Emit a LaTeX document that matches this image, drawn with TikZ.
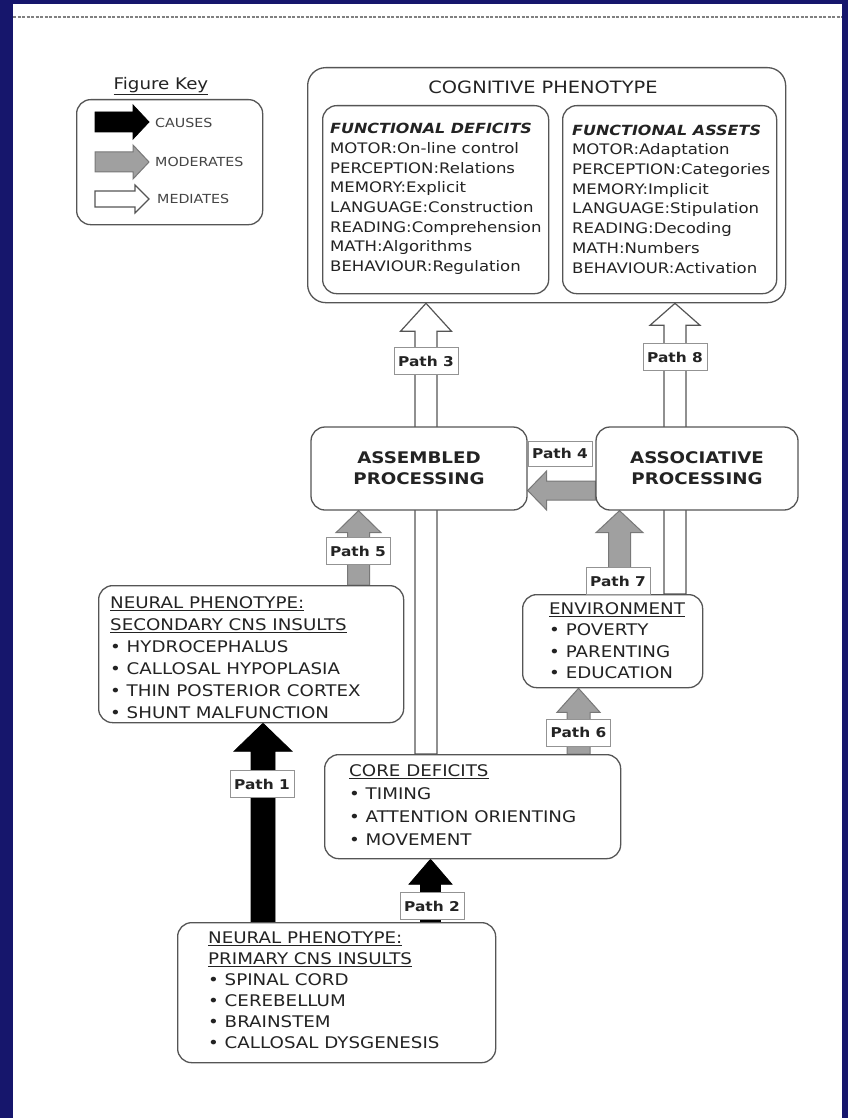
\documentclass[tikz,border=0pt]{standalone}
\usepackage{fontspec}
\setmainfont[FakeStretch=1.14]{DejaVu Sans}
\usetikzlibrary{calc}
\definecolor{navy}{RGB}{22,22,108}
\definecolor{boxc}{RGB}{85,85,85}
\definecolor{txtc}{RGB}{35,35,35}
\definecolor{modfill}{RGB}{160,160,160}
\definecolor{moddraw}{RGB}{120,120,120}
\pgfdeclarelayer{back}
\pgfdeclarelayer{bg}
\pgfsetlayers{back,bg,main}
% vertical block arrow: style, x-coordinate, from anchor (lower), to anchor (upper), shaft half, head half, head length
\newcommand\uparr[7]{%
  \draw[#1] ($(#3 -| #2)+(-#5,0)$) -- ($(#4 -| #2)+(-#5,#7)$) -- ($(#4 -| #2)+(-#6,#7)$) -- (#4 -| #2)
    -- ($(#4 -| #2)+(#6,#7)$) -- ($(#4 -| #2)+(#5,#7)$) -- ($(#3 -| #2)+(#5,0)$) -- cycle;}
% horizontal block arrow pointing left
\newcommand\leftarr[7]{%
  \draw[#1] ($(#3 |- #2)+(0,-#5)$) -- ($(#4 |- #2)+(#7,-#5)$) -- ($(#4 |- #2)+(#7,-#6)$) -- (#4 |- #2)
    -- ($(#4 |- #2)+(#7,#6)$) -- ($(#4 |- #2)+(#7,#5)$) -- ($(#3 |- #2)+(0,#5)$) -- cycle;}
% horizontal block arrow pointing right
\newcommand\rightarr[6]{%
  \draw[#1] ($(#2)+(0,-#4)$) -- ($(#3)+(-#6,-#4)$) -- ($(#3)+(-#6,-#5)$) -- (#3)
    -- ($(#3)+(-#6,#5)$) -- ($(#3)+(-#6,#4)$) -- ($(#2)+(0,#4)$) -- cycle;}
\tikzset{
  box/.style={draw=boxc, line width=1.3pt, rounded corners=14pt, fill=white, inner sep=0pt},
  txt/.style={inner sep=0pt, align=left, text=txtc},
  plabel/.style={draw=moddraw!80, line width=0.8pt, fill=white, inner sep=0pt,
    minimum width=64pt, minimum height=27pt, font=\bfseries\fontsize{13.5}{14}\selectfont, text=txtc},
  causes/.style={fill=black, draw=black, line width=0.8pt},
  moderates/.style={fill=modfill, draw=moddraw, line width=1pt},
  mediates/.style={fill=white, draw=boxc, line width=1.2pt},
  keytxt/.style={txt, anchor=west, font=\fontsize{12.5}{14}\selectfont, text=txtc!85},
}
\begin{document}
\begin{tikzpicture}[x=1pt,y=-1pt]
\begin{pgfonlayer}{back}
\fill[navy] (0,0) rectangle (848,1118);
\fill[white] (13,4) rectangle (842,1118);
\draw[gray, line width=1.3pt, dash pattern=on 3pt off 1.5pt] (13,17) -- (842,17);
\end{pgfonlayer}
\useasboundingbox (0,0) rectangle (848,1118);

% ---------- figure key ----------
\node[txt, anchor=center, font=\fontsize{16}{18}\selectfont] (keyt) at (161,86) {\underline{Figure Key}};
\node[box, anchor=north west, minimum width=186pt, minimum height=125pt] (key) at (76,99) {};
\coordinate (k1a) at (95,122); \coordinate (k1b) at (149,122);
\coordinate (k2a) at (95,162); \coordinate (k2b) at (149,162);
\coordinate (k3a) at (95,199); \coordinate (k3b) at (149,199);
\rightarr{causes}{k1a}{k1b}{10}{17}{16}
\rightarr{moderates}{k2a}{k2b}{10}{17}{16}
\rightarr{mediates}{k3a}{k3b}{8}{14}{14}
\node[keytxt] (kc) at (155,123) {CAUSES};
\node[keytxt] (km) at (155,162) {MODERATES};
\node[keytxt] (kd) at (157,199) {MEDIATES};

% ---------- cognitive phenotype ----------
\node[box, anchor=north west, minimum width=478pt, minimum height=235pt, rounded corners=18pt] (cog) at (307,67) {};
\node[txt, anchor=center, font=\fontsize{17}{20}\selectfont] (cogt) at (543,87) {COGNITIVE PHENOTYPE};
\node[box, anchor=north west, minimum width=226pt, minimum height=188pt] (fd) at (322,105) {};
\node[box, anchor=north west, minimum width=214pt, minimum height=188pt] (fa) at (562,105) {};
\node[txt, anchor=west, font=\fontsize{14.5}{19.7}\selectfont] (fdt) at (330,199)
  {{\bfseries\itshape\fontsize{14}{19.7}\selectfont FUNCTIONAL DEFICITS}\\MOTOR:On-line control\\PERCEPTION:Relations\\MEMORY:Explicit\\LANGUAGE:Construction\\READING:Comprehension\\MATH:Algorithms\\BEHAVIOUR:Regulation};
\node[txt, anchor=west, font=\fontsize{14.5}{19.7}\selectfont] (fat) at (572,199)
  {{\bfseries\itshape\fontsize{14}{19.7}\selectfont FUNCTIONAL ASSETS}\\MOTOR:Adaptation\\PERCEPTION:Categories\\MEMORY:Implicit\\LANGUAGE:Stipulation\\READING:Decoding\\MATH:Numbers\\BEHAVIOUR:Activation};

% ---------- processing ----------
\node[box, minimum width=216pt, minimum height=83pt, font=\bfseries\fontsize{16}{21}\selectfont, align=center, text=txtc] (asm) at (419,468.5) {ASSEMBLED\\PROCESSING};
\node[box, minimum width=202pt, minimum height=83pt, font=\bfseries\fontsize{16}{21}\selectfont, align=center, text=txtc] (assoc) at (697,468.5) {ASSOCIATIVE\\PROCESSING};

% ---------- lower boxes ----------
\node[box, anchor=north west, minimum width=305pt, minimum height=137pt] (sec) at (98,585) {};
\node[txt, anchor=west, font=\fontsize{16}{22}\selectfont] (sect) at (110,657.5)
  {\underline{NEURAL PHENOTYPE:}\\\underline{SECONDARY CNS INSULTS}\\\textbullet\ HYDROCEPHALUS\\\textbullet\ CALLOSAL HYPOPLASIA\\\textbullet\ THIN POSTERIOR CORTEX\\\textbullet\ SHUNT MALFUNCTION};
\node[box, anchor=north west, minimum width=180pt, minimum height=93pt] (env) at (522,594) {};
\node[txt, anchor=west, font=\fontsize{16}{21.5}\selectfont] (envt) at (549,640.5)
  {\underline{ENVIRONMENT}\\\textbullet\ POVERTY\\\textbullet\ PARENTING\\\textbullet\ EDUCATION};
\node[box, anchor=north west, minimum width=296pt, minimum height=104pt] (core) at (324,754) {};
\node[txt, anchor=west, font=\fontsize{16}{23}\selectfont] (coret) at (349,805)
  {\underline{CORE DEFICITS}\\\textbullet\ TIMING\\\textbullet\ ATTENTION ORIENTING\\\textbullet\ MOVEMENT};
\node[box, anchor=north west, minimum width=318pt, minimum height=140pt] (prim) at (177,922) {};
\node[txt, anchor=west, font=\fontsize{16}{21}\selectfont] (primt) at (208,990)
  {\underline{NEURAL PHENOTYPE:}\\\underline{PRIMARY CNS INSULTS}\\\textbullet\ SPINAL CORD\\\textbullet\ CEREBELLUM\\\textbullet\ BRAINSTEM\\\textbullet\ CALLOSAL DYSGENESIS};

% ---------- arrows ----------
\coordinate (x1) at (263,0);
\coordinate (x2) at (430.5,0);
\coordinate (x3) at (426,0);
\coordinate (x5) at (358.5,0);
\coordinate (x6) at (578.5,0);
\coordinate (x7) at (619.5,0);
\coordinate (x8) at (675,0);
\coordinate (y4) at (0,490.5);
\begin{pgfonlayer}{bg}
\uparr{causes}{x1}{prim.north}{sec.south}{12}{29}{28}
\uparr{causes}{x2}{prim.north}{core.south}{10}{21.5}{25}
\uparr{mediates}{x3}{core.north}{cog.south}{11}{25.5}{28}
\uparr{mediates}{x8}{env.north}{cog.south}{11}{25}{22}
\uparr{moderates}{x5}{sec.north}{asm.south}{11}{22.5}{22}
\uparr{moderates}{x6}{core.north}{env.south}{11.5}{21.5}{24}
\uparr{moderates}{x7}{env.north}{assoc.south}{11}{23.5}{22}
\leftarr{moderates}{y4}{assoc.west}{asm.east}{9.5}{19.5}{19}
\end{pgfonlayer}

% ---------- path labels ----------
\node[plabel] (l1) at (262,784) {Path 1};
\node[plabel] (l2) at (432,906) {Path 2};
\node[plabel] (l3) at (426,361) {Path 3};
\node[plabel, minimum height=25pt] (l4) at (560,453.5) {Path 4};
\node[plabel] (l5) at (358,551) {Path 5};
\node[plabel] (l6) at (578.5,732.5) {Path 6};
\node[plabel] (l7) at (618,581) {Path 7};
\node[plabel] (l8) at (675,357) {Path 8};
\end{tikzpicture}
\end{document}
